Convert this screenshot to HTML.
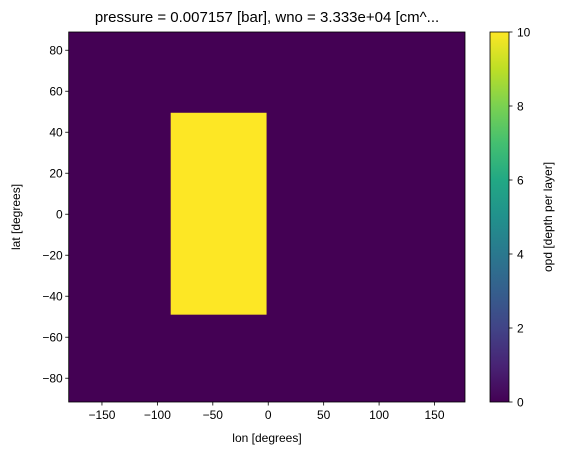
<!DOCTYPE html>
<html><head><meta charset="utf-8">
<style>
body{margin:0;background:#fff;}
svg{display:block;font-family:"Liberation Sans","DejaVu Sans",sans-serif;}
</style></head>
<body>
<svg id="chart" width="565" height="455" viewBox="0 0 565 455" xmlns="http://www.w3.org/2000/svg">
<defs>
<linearGradient id="viridis" x1="0" y1="1" x2="0" y2="0">
<stop offset="0" stop-color="#440154"/><stop offset="0.1" stop-color="#482475"/>
<stop offset="0.2" stop-color="#414487"/><stop offset="0.3" stop-color="#355f8d"/>
<stop offset="0.4" stop-color="#2a788e"/><stop offset="0.5" stop-color="#21918c"/>
<stop offset="0.6" stop-color="#22a884"/><stop offset="0.7" stop-color="#44bf70"/>
<stop offset="0.8" stop-color="#7ad151"/><stop offset="0.9" stop-color="#bddf26"/>
<stop offset="1" stop-color="#fde725"/>
</linearGradient>
</defs>
<text x="267" y="22" font-size="15" text-anchor="middle" fill="#000">pressure = 0.007157 [bar], wno = 3.333e+04 [cm^...</text>
<g id="plot"></g>
<rect x="490" y="32" width="19" height="370" fill="url(#viridis)" stroke="#000" stroke-width="0.8"/>
<g id="cbticks"></g>
<text transform="translate(552,217) rotate(-90)" font-size="12" text-anchor="middle">opd [depth per layer]</text>
<text x="267" y="442" font-size="12" text-anchor="middle">lon [degrees]</text>
<text transform="translate(20,217) rotate(-90)" font-size="12" text-anchor="middle">lat [degrees]</text>
</svg>
<script>
// data
const lonRange = [-180, 177.5];
const latRange = [-91.6, 88.9];
const backgroundValue = 0;
const patchLon = [-88, -1.5];
const patchLat = [-49, 49.5];
const patchValue = 10;
const xTicks = [-150, -100, -50, 0, 50, 100, 150];
const yTicks = [-80, -60, -40, -20, 0, 20, 40, 60, 80];
const cTicks = [0, 2, 4, 6, 8, 10];
const cRange = [0, 10];

const L=68.7,R=465,T=32,B=402;
const NS="http://www.w3.org/2000/svg";
const xs=v=>L+(v-lonRange[0])/(lonRange[1]-lonRange[0])*(R-L);
const ys=v=>B-(v-latRange[0])/(latRange[1]-latRange[0])*(B-T);
const cs=v=>B-(v-cRange[0])/(cRange[1]-cRange[0])*(B-T);
const stops=["#440154","#482475","#414487","#355f8d","#2a788e","#21918c","#22a884","#44bf70","#7ad151","#bddf26","#fde725"];
const cmap=v=>stops[Math.round((v-cRange[0])/(cRange[1]-cRange[0])*10)];
function mk(tag,attrs,parent){const e=document.createElementNS(NS,tag);for(const k in attrs)e.setAttribute(k,attrs[k]);parent.appendChild(e);return e;}
const g=document.getElementById('plot');
const bg=mk('rect',{x:L,y:T,width:R-L,height:B-T,fill:cmap(backgroundValue)},g);


const p=mk('rect',{x:xs(patchLon[0]),y:ys(patchLat[1]),width:xs(patchLon[1])-xs(patchLon[0]),height:ys(patchLat[0])-ys(patchLat[1]),fill:cmap(patchValue)},g);


const fr=mk('rect',{x:L,y:T,width:R-L,height:B-T,fill:'none',stroke:'#000','stroke-width':0.8},g);


xTicks.forEach(t=>{const x=xs(t);
 mk('line',{x1:x,x2:x,y1:B,y2:B+3.5,stroke:'#000','stroke-width':0.8},g);
 const tx=mk('text',{x:x,y:B+17,'font-size':12,'text-anchor':'middle'},g);tx.textContent=(t<0?'\u2212':'')+Math.abs(t);
 
 });
yTicks.forEach(t=>{const y=ys(t);
 mk('line',{x1:L-3.5,x2:L,y1:y,y2:y,stroke:'#000','stroke-width':0.8},g);
 const tx=mk('text',{x:L-6,y:y+4.3,'font-size':12,'text-anchor':'end'},g);tx.textContent=(t<0?'\u2212':'')+Math.abs(t);
 
 });
const cg=document.getElementById('cbticks');
cTicks.forEach(t=>{const y=cs(t);
 mk('line',{x1:509,x2:512.5,y1:y,y2:y,stroke:'#000','stroke-width':0.8},cg);
 const tx=mk('text',{x:517,y:y+4.3,'font-size':12},cg);tx.textContent=t;
 
 });
</script>
</body></html>
